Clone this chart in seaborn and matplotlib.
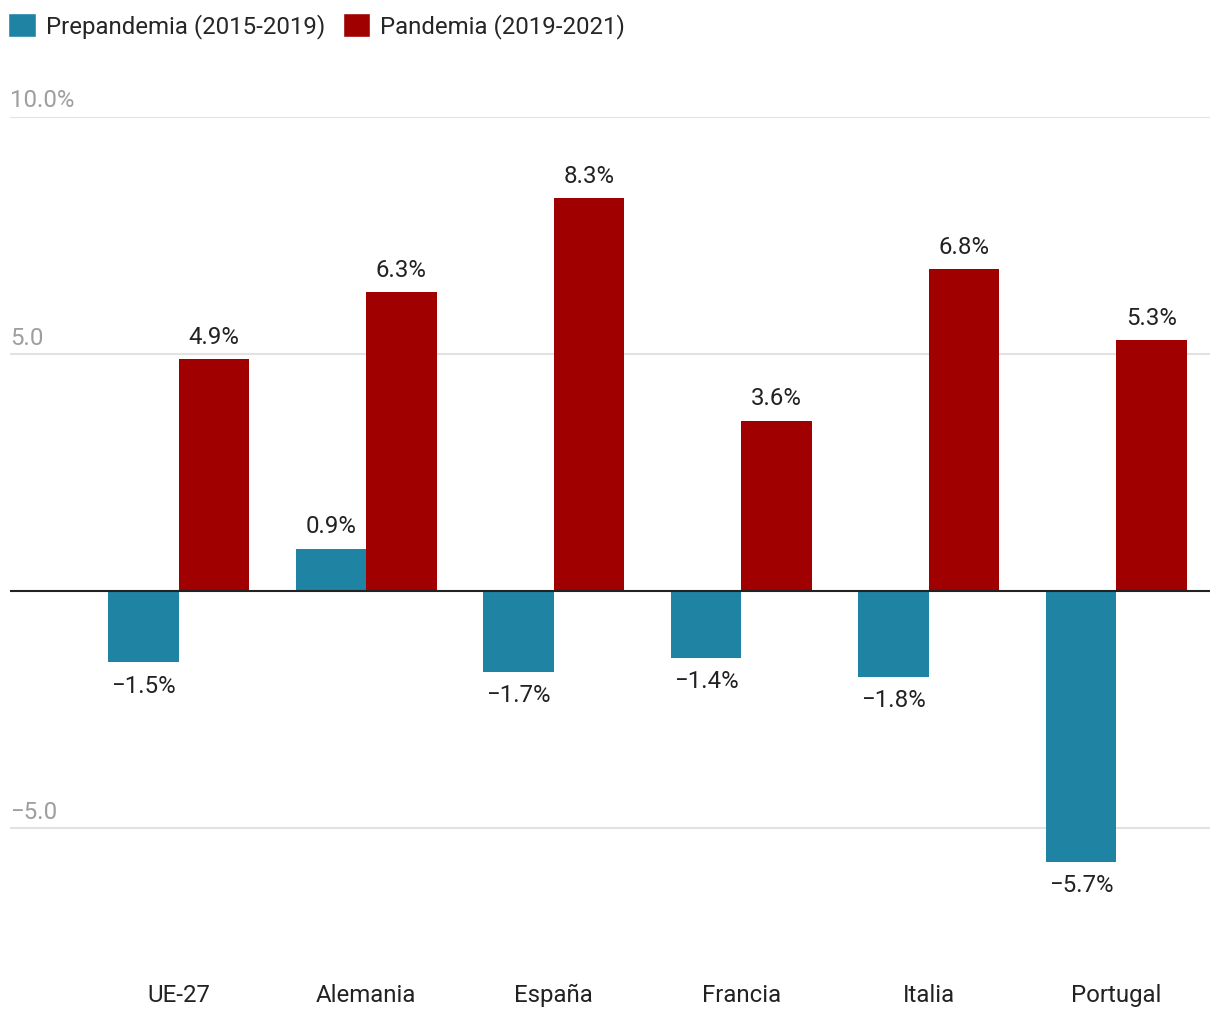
import matplotlib.pyplot as plt
import pandas as pd
import seaborn as sns
from matplotlib.patches import Patch
from matplotlib.transforms import blended_transform_factory

# Data
countries = ["UE-27", "Alemania", "España", "Francia", "Italia", "Portugal"]
series = ["Prepandemia (2015-2019)", "Pandemia (2019-2021)"]
prepandemia = [-1.5, 0.9, -1.7, -1.4, -1.8, -5.7]
pandemia = [4.9, 6.3, 8.3, 3.6, 6.8, 5.3]
y_ticks = [10.0, 5.0, -5.0]
y_tick_labels = ["10.0%", "5.0", "\u22125.0"]

colors = ["#1f83a4", "#a00000"]
fs = 17.3

df = pd.DataFrame({
    "country": countries * 2,
    "serie": [series[0]] * len(countries) + [series[1]] * len(countries),
    "value": prepandemia + pandemia,
})

sns.set_style("white")
plt.rcParams["font.family"] = ["Roboto", "DejaVu Sans"]

fig = plt.figure(figsize=(12.2, 10.2), dpi=100)
ax = fig.add_axes([10 / 1220, 1 - 948 / 1020, 1200 / 1220, (948 - 118) / 1020])

sns.barplot(data=df, x="country", y="value", hue="serie", palette=colors,
            width=0.75, saturation=1, linewidth=0, legend=False, ax=ax)

ax.set_xlim(-0.9, 5.5)
ax.set_ylim(-7.5, 10)

# gridlines + zero line
for t in y_ticks:
    ax.axhline(t, color="#e2e2e2", lw=1.5, zorder=0)
ax.axhline(0, color="#222222", lw=1.5, zorder=3)

# y labels sitting on top of the gridlines
tr = blended_transform_factory(ax.transAxes, ax.transData)
for t, lab in zip(y_ticks, y_tick_labels):
    ax.annotate(lab, xy=(0, t), xycoords=tr, xytext=(0, 4), textcoords="offset points",
                ha="left", va="bottom", fontsize=fs, color="#9e9e9e")

# value labels
for cont in ax.containers:
    labels = [f"{v:.1f}%".replace("-", "\u2212") for v in cont.datavalues]
    ax.bar_label(cont, labels=labels, padding=8, fontsize=fs, color="#222222")

ax.set_yticks([])
ax.set_xlabel("")
ax.set_ylabel("")
ax.tick_params(axis="x", length=0, pad=26, labelsize=fs, labelcolor="#222222")
sns.despine(ax=ax, left=True, bottom=True)

handles = [Patch(facecolor=c, label=s) for c, s in zip(colors, series)]
fig.legend(handles=handles, loc="upper left", bbox_to_anchor=(-0.007, 1.003), ncol=2,
           frameon=False, fontsize=fs, handlelength=1.15, handleheight=1.15,
           handletextpad=0.4, columnspacing=0.75, borderaxespad=0.3)

fig.savefig("out.png", dpi=100)
